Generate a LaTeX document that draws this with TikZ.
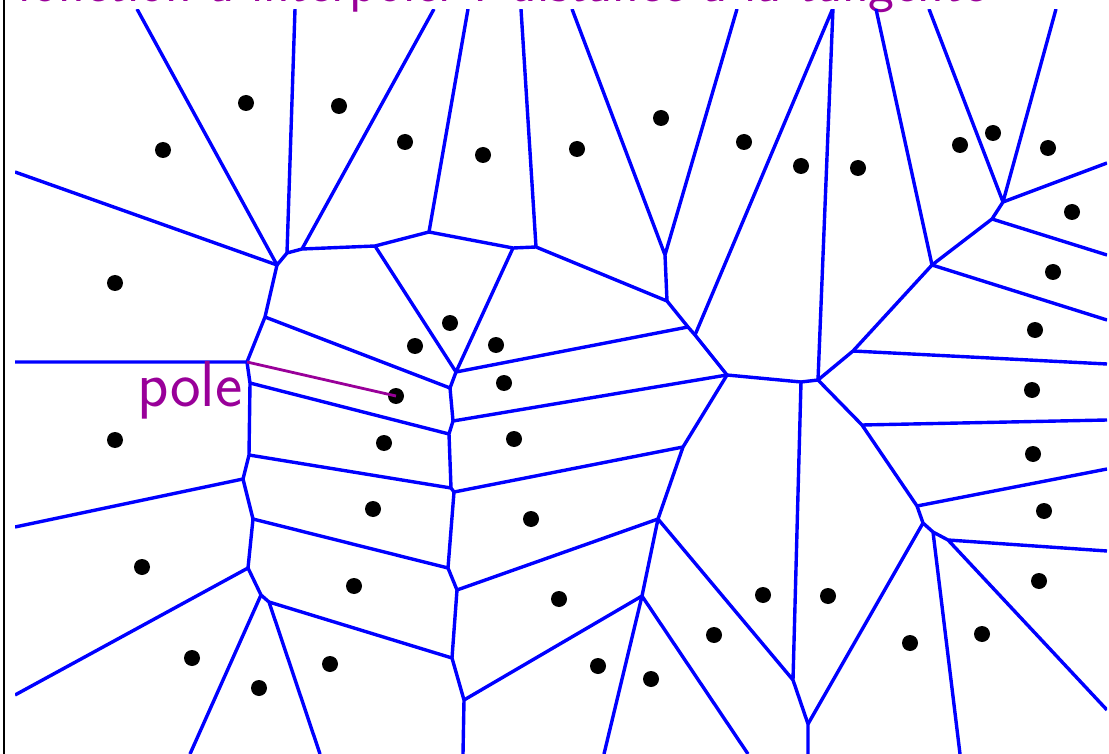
\documentclass[tikz,border=0pt]{standalone}
\usepackage{tikz}
\definecolor{VorBlue}{HTML}{0000FF}
\definecolor{VorPurple}{HTML}{990099}

\begin{document}
\begin{tikzpicture}[x=1pt,y=-1pt,
    cell/.style={VorBlue,line width=3.4pt,line join=round},
    poleline/.style={VorPurple,line width=2.8pt}]
  \clip (0,0) rectangle (1109,754);
  \draw[black,line width=2.4pt] (3.7,0) -- (3.7,754);
  \node[VorPurple,anchor=base west,inner sep=0pt,font=\sffamily\fontsize{55}{60}\selectfont]
    (titre) at (17,1.5) {fonction à interpoler : distance à la tangente};

  % sommets du diagramme de Voronoi
  \foreach \n/\x/\y in {a1/277/265, a2/287/253, a3/302/249, a4/375/246, a5/429/232,
      a6/513/248, a7/536/247, b1/265/317, b2/247/362, b3/250/383, b4/249/455,
      b5/243/479, b6/253/519, b7/248/568, b8/261/595, b9/269/602,
      c1/456/372, c2/450/388, c3/453/421, c4/449/434, c5/451/488, c6/454/492,
      c7/448/568, c8/457/590, c9/452/658, c10/464/700,
      d1/665/255, d2/667/301, d3/688/327, d4/695/335, d5/727/375, d6/683/447,
      d7/658/519, d8/642/596,
      e1/801/382, e2/818/380, e3/853/351, e4/932/265, e5/992/219, e6/1003/202,
      e7/862/425, e8/917/506, e9/923/523, e10/933/532, e11/948/540,
      e12/793/680, e13/808/724, t/833/8}
    \coordinate (\n) at (\x,\y);
  % extremites sur le bord
  \foreach \n/\x/\y in {L1/15/172, L2/15/362, L3/15/527, L4/15/695,
      T1/137/9, T2/295/9, T3/434/9, T4/468/9, T5/521/9, T6/572/9, T7/737/9,
      T8/876/9, T9/929/9, T10/1056/9,
      R1/1107/163, R2/1107/255, R3/1107/320, R4/1107/364, R5/1107/420,
      R6/1107/469, R7/1107/551, R8/1107/710,
      B1/190/754, B2/320/754, B3/463/754, B4/604/754, B5/748/754, B6/808/754,
      B7/960/754}
    \coordinate (\n) at (\x,\y);

  \begin{scope}
    \clip (15,9.3) rectangle (1107,760);
    \draw[cell] (L1) -- (a1) -- (b1) -- (b2) -- (b3) -- (b4) -- (b5) -- (b6)
      -- (b7) -- (b8) -- (b9) -- (B2);
    \draw[cell] (T1) -- (a1) -- (a2) -- (a3) -- (a4) -- (a5) -- (a6) -- (a7)
      -- (d2) -- (d3) -- (d4) -- (d5) -- (e1) -- (e2) -- (e3) -- (e4) -- (e5)
      -- (e6) -- (R1);
    \draw[cell] (T2) -- (a2) (T3) -- (a3) (T4) -- (a5) (T5) -- (a7)
      (a4) -- (c1) -- (a6) (T6) -- (d1) -- (T7) (d1) -- (d2) (c1) -- (d3)
      (t) -- (d4) (t) -- (e2);
    \draw[cell] (c1) -- (c2) -- (c3) -- (c4) -- (c5) -- (c6) -- (c7) -- (c8)
      -- (c9) -- (c10) -- (B3);
    \draw[cell] (b1) -- (c2) (c3) -- (d5) (b3) -- (c4) (b4) -- (c5)
      (c6) -- (d6) (b6) -- (c7) (c8) -- (d7) (b9) -- (c9) (c10) -- (d8);
    \draw[cell] (d5) -- (d6) -- (d7) -- (d8) -- (B4) (d8) -- (B5)
      (d7) -- (e12) -- (e13) -- (B6) (e1) -- (e12);
    \draw[cell] (L2) -- (b2) (L3) -- (b5) (L4) -- (b7) (b8) -- (B1);
    \draw[cell] (e2) -- (e7) -- (e8) -- (e9) -- (e10) -- (e11) -- (R7)
      (e11) -- (R8) (e10) -- (B7) (e9) -- (e13) (e8) -- (R6) (e7) -- (R5)
      (e3) -- (R4) (e4) -- (R3) (e4) -- (T8) (e5) -- (R2) (e6) -- (T9)
      (e6) -- (T10);
  \end{scope}

  % les sites
  \foreach \x/\y in {163/150, 246/103, 339/106, 405/142, 483/155, 577/149,
      661/118, 744/142, 801/166, 858/168, 960/145, 993/133, 1048/148, 1072/212,
      1053/272, 1035/330, 1032/390, 1033/454, 1044/511, 1039/581, 982/634,
      910/643, 828/596, 763/595, 714/635, 651/679, 598/666, 559/599, 531/519,
      514/439, 504/383, 496/345, 450/323, 415/346, 384/443, 373/509,
      354/586, 330/664, 259/688, 192/658, 142/567, 115/440, 115/283}
    \fill (\x,\y) circle (8pt);
  \coordinate (polesite) at (396,396);
  \fill (polesite) circle (8pt);

  \draw[poleline] (b2) -- (polesite);
  \node[VorPurple,anchor=base west,inner sep=0pt,font=\sffamily\fontsize{65}{70}\selectfont]
    (polelabel) at (137,406) {pole};
\end{tikzpicture}
\end{document}
